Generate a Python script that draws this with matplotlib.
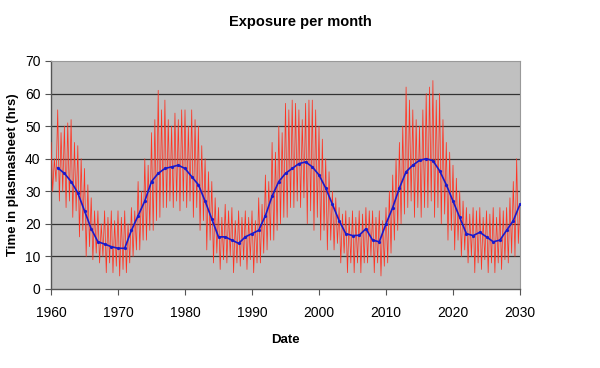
import numpy as np
import matplotlib
matplotlib.use("Agg")
import matplotlib.pyplot as plt

plt.rcParams['font.family'] = ['Liberation Sans', 'DejaVu Sans']

# ---- data ----
years = list(range(1960, 2030))
# red monthly series, summarised as two peaks and two troughs per year
red_peak_a = [45, 55, 50, 52, 44, 37, 28, 24, 24, 24, 24, 24, 25, 33, 40, 48, 61, 58, 50, 52,
              55, 55, 50, 40, 33, 25, 26, 25, 24, 24, 24, 28, 35, 45, 50, 57, 58, 55, 57, 58,
              50, 40, 30, 25, 24, 24, 24, 25, 24, 24, 25, 35, 45, 62, 55, 50, 60, 64, 60, 45,
              38, 30, 25, 25, 25, 24, 25, 25, 25, 33]
red_peak_b = [40, 48, 51, 45, 40, 32, 24, 20, 22, 21, 22, 20, 24, 30, 38, 52, 55, 52, 54, 55,
              50, 52, 44, 36, 28, 22, 24, 21, 22, 22, 21, 26, 33, 42, 48, 55, 57, 52, 58, 55,
              46, 36, 28, 23, 22, 22, 23, 24, 22, 21, 30, 40, 50, 58, 52, 55, 62, 58, 52, 42,
              34, 27, 23, 24, 22, 23, 22, 24, 28, 40]
red_low_a = [30, 27, 25, 22, 16, 10, 9, 8, 5, 5, 4, 5, 10, 12, 15, 18, 22, 25, 25, 24,
             25, 22, 18, 12, 8, 6, 8, 5, 7, 6, 5, 8, 12, 15, 20, 22, 25, 25, 20, 18,
             15, 12, 12, 8, 5, 5, 5, 8, 5, 4, 8, 15, 20, 25, 22, 22, 25, 22, 20, 15,
             12, 10, 8, 5, 6, 5, 5, 6, 8, 10]
red_low_b = [33, 30, 27, 24, 18, 13, 11, 10, 8, 7, 6, 8, 12, 15, 18, 21, 25, 27, 27, 27,
             27, 25, 21, 15, 11, 9, 10, 8, 9, 9, 8, 11, 15, 18, 22, 25, 27, 28, 24, 22,
             18, 15, 14, 11, 8, 8, 8, 10, 8, 7, 11, 18, 23, 27, 25, 25, 27, 25, 23, 18,
             15, 12, 10, 8, 9, 8, 8, 9, 11, 14]
red_end = 26  # value at 2030

blue_years = list(range(1961, 2031))
blue_vals = [37.2, 35.5, 33, 29.5, 24, 18.5, 14.5, 13.8, 13, 12.5, 12.5, 18, 22.5, 27, 33, 35.5,
             37, 37.5, 38, 37, 34.5, 32, 27, 21.5, 16, 16, 15, 14, 16, 17, 18, 22.5, 28.5, 33,
             35.5, 37, 38.5, 39, 37.5, 35, 31, 26, 21, 17, 16.4, 16.5, 18.5, 15, 14.5, 20, 25,
             31, 36, 38, 39.5, 40, 39.4, 36.3, 32, 27, 22, 17, 16.4, 17.4, 16, 14.5, 15, 18, 21, 26]

x_ticks = [1960, 1970, 1980, 1990, 2000, 2010, 2020, 2030]
y_ticks = [0, 10, 20, 30, 40, 50, 60, 70]

# build the red line from the read peaks/troughs (quarter-year steps)
red_t, red_v = [], []
for i, yr in enumerate(years):
    red_t += [yr, yr + 0.25, yr + 0.5, yr + 0.75]
    red_v += [red_peak_a[i], red_low_a[i], red_peak_b[i], red_low_b[i]]
red_t.append(2030)
red_v.append(red_end)

fig = plt.figure(figsize=(6.0, 3.68), dpi=100)
ax = fig.add_axes([51/600, 1 - 289/368, (520-51)/600, (289-61)/368])
ax.set_facecolor('#c0c0c0')

ax.plot(red_t, red_v, color='#ff3322', lw=0.55, zorder=3)
ax.plot(blue_years, blue_vals, color='#1a1acc', lw=1.2, marker='o', ms=1.3, zorder=4)

ax.set_xlim(1960, 2030)
ax.set_ylim(0, 70)
ax.set_xticks(x_ticks)
ax.set_yticks(y_ticks)
ax.tick_params(axis='both', labelsize=10, direction='out', length=4, color='#555555')
ax.tick_params(axis='x', pad=8)
for yv in y_ticks[1:-1]:
    ax.axhline(yv, color='#333333', lw=0.9, zorder=1)
for s in ['top', 'right']:
    ax.spines[s].set_color('#999999')
    ax.spines[s].set_linewidth(0.8)
for s in ['left', 'bottom']:
    ax.spines[s].set_color('#555555')
    ax.spines[s].set_linewidth(1.0)

fig.text(0.5, 1 - 22/368, 'Exposure per month', ha='center', va='center',
         fontsize=10.5, fontweight='bold')
ax.set_xlabel('Date', fontsize=9.5, fontweight='bold', labelpad=10)
ax.set_ylabel('Time in plasmasheet (hrs)', fontsize=9.5, fontweight='bold', labelpad=4)

fig.savefig('out.png', dpi=100)
